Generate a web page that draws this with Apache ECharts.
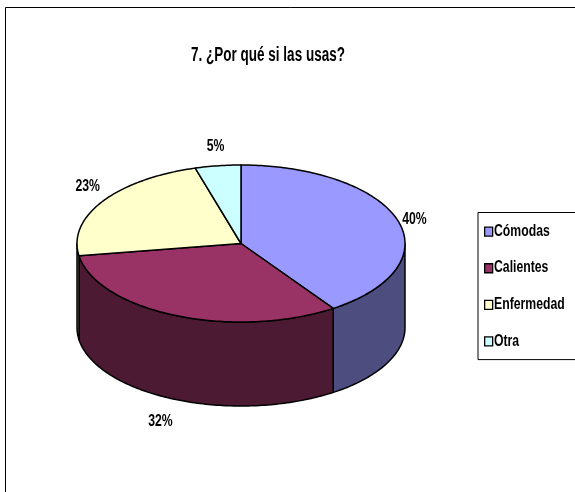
<!DOCTYPE html>
<html><head><meta charset="utf-8">
<style>html,body{margin:0;padding:0;background:#fff}#c{width:575px;height:492px}</style>
<script src="https://cdn.jsdelivr.net/npm/echarts@6/dist/echarts.min.js"></script>
</head><body><div id="c"></div>
<script>
const titleText = '7. ¿Por qué si las usas?';
const categories = ['Cómodas', 'Calientes', 'Enfermedad', 'Otra'];
const shares = [40.49, 32, 23, 4.5];
const topColors = ['#9999FF', '#993366', '#FFFFCC', '#CCFFFF'];
const sideColors = ['#4D4D80', '#4D1A33', '#808066', '#668080'];
const labelNudges = [[1, 5], [-9, 2], [-1, -3], [0, 2]];
const legendTextY = [231, 267, 304, 341];
const FONT = '"Liberation Sans",Arial,sans-serif';
const NARROW = 0.72, TITLE_NARROW = 0.675;
const CX = 241, CY = 243.5, RX = 164, RY = 78.5, DEPTH = 84;
const total = shares.reduce((a, b) => a + b, 0);

function pt(t, dy) {
  return [CX + RX * Math.sin(t), CY - RY * Math.cos(t) + (dy || 0)];
}
function arc(a, b, dy) {
  const out = [], n = Math.max(2, Math.ceil(Math.abs(b - a) / (Math.PI / 180)));
  for (let i = 0; i <= n; i++) out.push(pt(a + (b - a) * i / n, dy));
  return out;
}
function renderSlice(params) {
  const i = params.seriesIndex;
  let before = 0;
  for (let k = 0; k < i; k++) before += shares[k];
  const a = before / total * 2 * Math.PI;
  const b = (before + shares[i]) / total * 2 * Math.PI;
  const stroke = { stroke: '#000', lineWidth: 1.5, lineJoin: 'round' };
  const children = [];
  const wa = Math.max(a, Math.PI / 2), wb = Math.min(b, 3 * Math.PI / 2);
  if (wb > wa) {
    children.push({
      type: 'polygon',
      shape: { points: arc(wa, wb, 0).concat(arc(wb, wa, DEPTH)) },
      style: Object.assign({ fill: sideColors[i] }, stroke)
    });
  }
  children.push({
    type: 'polygon',
    shape: { points: [[CX, CY]].concat(arc(a, b, 0)) },
    style: Object.assign({ fill: topColors[i] }, stroke)
  });
  const mid = (a + b) / 2;
  const c = Math.cos(mid), front = c < 0 ? DEPTH : 0;
  children.push({
    type: 'text',
    x: CX + RX * 1.1 * Math.sin(mid) + labelNudges[i][0],
    y: CY + front - (RY + 22) * c + labelNudges[i][1],
    scaleX: NARROW,
    style: {
      text: Math.round(shares[i] / total * 100) + '%',
      align: 'center', verticalAlign: 'middle',
      font: 'bold 17px ' + FONT, fill: '#000'
    }
  });
  return { type: 'group', children };
}

const chart = echarts.init(document.getElementById('c'), null, { renderer: 'canvas' });
chart.setOption({
  animation: false,
  backgroundColor: '#fff',
  legend: {
    orient: 'vertical', left: 478, top: 212.5,
    data: categories, icon: 'rect', itemWidth: 8, itemHeight: 9, itemGap: 26.3,
    padding: [14, 100, 13, 6], borderColor: '#000', borderWidth: 1,
    selectedMode: false, formatter: () => '',
    itemStyle: { borderColor: '#000', borderWidth: 1.3 }
  },
  graphic: [{
    type: 'rect', silent: true, z: -1,
    shape: { x: 5.5, y: 7.5, width: 640, height: 560 },
    style: { fill: '#fff', stroke: '#000', lineWidth: 1 }
  }, {
    type: 'text', silent: true, x: 268, y: 55, scaleX: TITLE_NARROW,
    style: {
      text: titleText, align: 'center', verticalAlign: 'middle',
      font: 'bold 20px ' + FONT, fill: '#000'
    }
  }].concat(categories.map((name, i) => ({
    type: 'text', silent: true, z: 10, x: 494, y: legendTextY[i], scaleX: NARROW,
    style: {
      text: name, align: 'left', verticalAlign: 'middle',
      font: 'bold 17px ' + FONT, fill: '#000'
    }
  }))),
  series: categories.map((name, i) => ({
    type: 'custom', name, coordinateSystem: 'none', silent: true,
    itemStyle: { color: topColors[i] },
    data: [[shares[i]]], renderItem: renderSlice
  }))
});
</script></body></html>
